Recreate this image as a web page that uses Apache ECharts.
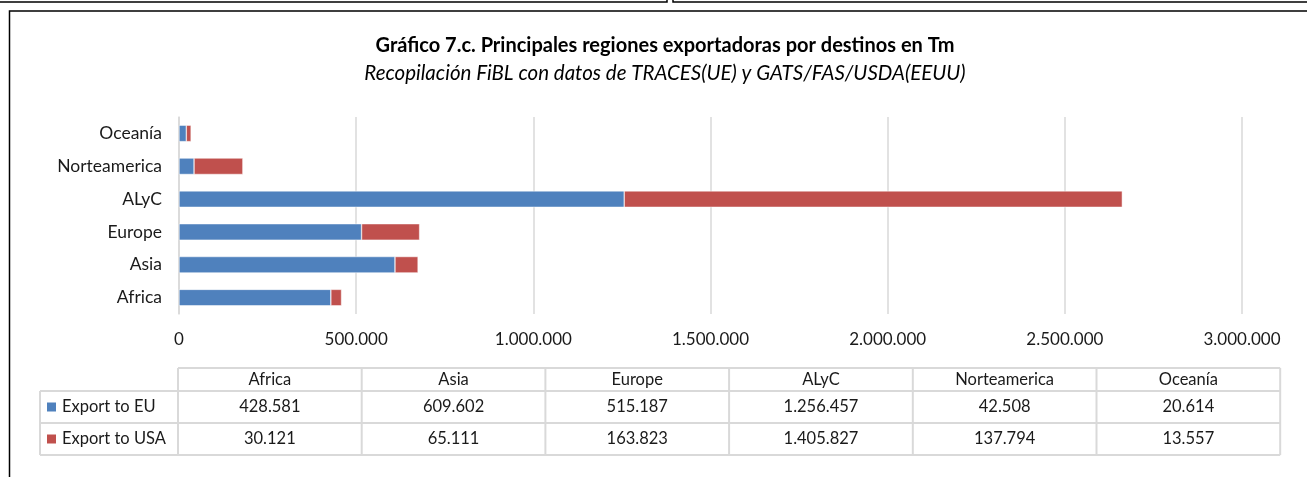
<!DOCTYPE html>
<html>
<head>
    <meta charset="utf-8">
    <script src="https://cdn.jsdelivr.net/npm/echarts@6/dist/echarts.min.js"></script>
    <style>
        html, body { margin: 0; padding: 0; background: #fff; }
    </style>
</head>
<body>
<div id="myChart" style="width: 1307px; height: 477px;"></div>

<script type="text/javascript">
    var chart = echarts.init(document.getElementById('myChart'));

    var regions = ['Africa', 'Asia', 'Europe', 'ALyC', 'Norteamerica', 'Oceanía'];
    var seriesNames = ['Export to EU', 'Export to USA'];
    var exportEU = [428581, 609602, 515187, 1256457, 42508, 20614];
    var exportUSA = [30121, 65111, 163823, 1405827, 137794, 13557];
    var axisTicks = [0, 500000, 1000000, 1500000, 2000000, 2500000, 3000000];

    var color = ['#4f81bd', '#c0504d'];
    var font = 'Lato, "Open Sans", sans-serif';
    var tblFont = '16.5px ' + font;

    function fmt(v) {
        return String(v).replace(/\B(?=(\d{3})+(?!\d))/g, '.');
    }

    // tabla de datos bajo el gráfico
    var tbl = {left: 40, labelW: 138, colW: 183.7, top: 368, rowH: [23, 32, 32]};
    var graphics = [];
    var line = {stroke: '#d9d9d9', lineWidth: 2};
    var tblRight = tbl.left + tbl.labelW + tbl.colW * regions.length;
    var ys = [tbl.top, tbl.top + tbl.rowH[0], tbl.top + tbl.rowH[0] + tbl.rowH[1],
        tbl.top + tbl.rowH[0] + tbl.rowH[1] + tbl.rowH[2]];

    // horizontales
    graphics.push({type: 'line', shape: {x1: tbl.left + tbl.labelW, y1: ys[0], x2: tblRight, y2: ys[0]}, style: line});
    for (var r = 1; r < ys.length; r++) {
        graphics.push({type: 'line', shape: {x1: tbl.left, y1: ys[r], x2: tblRight, y2: ys[r]}, style: line});
    }
    // verticales
    graphics.push({type: 'line', shape: {x1: tbl.left, y1: ys[1], x2: tbl.left, y2: ys[3]}, style: line});
    for (var c = 0; c <= regions.length; c++) {
        var x = tbl.left + tbl.labelW + tbl.colW * c;
        graphics.push({type: 'line', shape: {x1: x, y1: ys[0], x2: x, y2: ys[3]}, style: line});
    }

    var rowsData = [exportEU, exportUSA];
    regions.forEach(function (name, i) {
        var cx = tbl.left + tbl.labelW + tbl.colW * (i + 0.5);
        graphics.push({
            type: 'text', x: cx, y: (ys[0] + ys[1]) / 2,
            style: {text: name, align: 'center', verticalAlign: 'middle', font: tblFont, fill: '#1a1a1a'}
        });
        rowsData.forEach(function (vals, k) {
            graphics.push({
                type: 'text', x: cx, y: (ys[k + 1] + ys[k + 2]) / 2,
                style: {text: fmt(vals[i]), align: 'center', verticalAlign: 'middle', font: tblFont, fill: '#1a1a1a'}
            });
        });
    });
    seriesNames.forEach(function (name, k) {
        var cy = (ys[k + 1] + ys[k + 2]) / 2;
        graphics.push({type: 'rect', shape: {x: tbl.left + 7, y: cy - 4.5, width: 9, height: 9}, style: {fill: color[k]}});
        graphics.push({
            type: 'text', x: tbl.left + 22, y: cy,
            style: {text: name, align: 'left', verticalAlign: 'middle', font: tblFont, fill: '#1a1a1a'}
        });
    });

    // marcos
    graphics.push({type: 'rect', shape: {x: -5, y: -20, width: 672, height: 22}, style: {fill: 'none', stroke: '#000', lineWidth: 1.5}});
    graphics.push({type: 'rect', shape: {x: 673, y: -20, width: 660, height: 22}, style: {fill: 'none', stroke: '#000', lineWidth: 1.5}});
    graphics.push({type: 'rect', shape: {x: 9.5, y: 11, width: 1320, height: 500}, style: {fill: 'none', stroke: '#000', lineWidth: 1.5}});

    var option = {
        animation: false,
        title: {
            text: 'Gráfico 7.c. Principales regiones exportadoras por destinos en Tm',
            subtext: 'Recopilación FiBL con datos de TRACES(UE) y GATS/FAS/USDA(EEUU)',
            left: 660,
            textAlign: 'center',
            top: 31,
            itemGap: 7,
            textStyle: {fontFamily: font, fontSize: 20, fontWeight: 'bold', color: '#000'},
            subtextStyle: {fontFamily: font, fontSize: 20.5, fontStyle: 'italic', color: '#000'}
        },
        grid: {left: 179, right: 65, top: 117, bottom: 163},
        xAxis: {
            type: 'value',
            min: 0,
            max: axisTicks[axisTicks.length - 1],
            interval: axisTicks[1] - axisTicks[0],
            axisLine: {show: false},
            axisTick: {show: false},
            splitLine: {lineStyle: {color: '#d9d9d9', width: 1.5}},
            axisLabel: {
                margin: 17,
                fontFamily: font,
                fontSize: 17,
                color: '#1a1a1a',
                formatter: function (v) { return fmt(v); }
            }
        },
        yAxis: {
            type: 'category',
            data: regions,
            axisLine: {show: true, lineStyle: {color: '#d9d9d9', width: 1.5}},
            axisTick: {show: false},
            axisLabel: {margin: 17, fontFamily: font, fontSize: 17.5, color: '#1a1a1a'}
        },
        series: [{
            name: seriesNames[0],
            type: 'bar',
            stack: 'total',
            barWidth: '50%',
            itemStyle: {color: color[0], borderColor: '#fff', borderWidth: 0.5},
            data: exportEU
        }, {
            name: seriesNames[1],
            type: 'bar',
            stack: 'total',
            barWidth: '50%',
            itemStyle: {color: color[1], borderColor: '#fff', borderWidth: 0.5},
            data: exportUSA
        }],
        graphic: graphics
    };

    chart.setOption(option);
</script>
</body>
</html>
